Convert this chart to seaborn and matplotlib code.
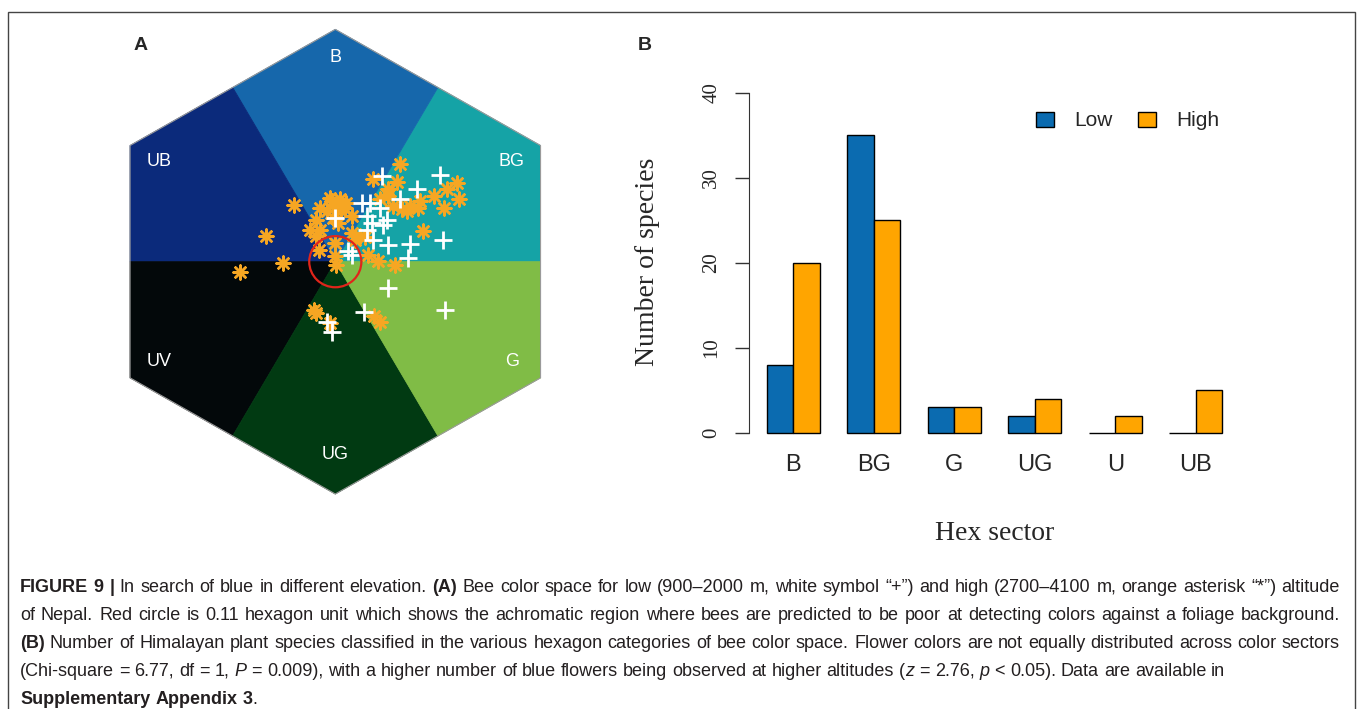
import re
import numpy as np
import pandas as pd
import matplotlib
matplotlib.use("Agg")
import matplotlib.pyplot as plt
from matplotlib.patches import Polygon, Circle, Rectangle
import seaborn as sns

# ==================== Data: panel A (hexagon units, vertex radius = 1) ====================
low_x = [0.198, 0.443, 0.344, 0.273, 0.111, 0.146, 0.189, 0.132, 0.217, 0.203,
         0.153, 0.160, 0.224, 0.316, 0.454, 0.054, 0.069, 0.306, 0.224, 0.461,
         0.122, -0.035, -0.016, -0.002, 0.132]
low_y = [0.371, 0.373, 0.314, 0.268, 0.253, 0.253, 0.232, 0.196, 0.181, 0.156,
         0.167, 0.095, 0.072, 0.078, 0.095, 0.045, 0.030, 0.016, -0.114, -0.210,
         -0.217, -0.259, -0.301, 0.189, 0.138]

high_x = [0.273, 0.157, 0.259, 0.224, 0.513, 0.471, 0.520, 0.457, 0.415, 0.358,
          0.316, 0.280, 0.245, 0.189, 0.372, -0.176, -0.292, -0.221, -0.402, -0.066,
          -0.016, 0.019, 0.005, 0.040, -0.037, -0.080, -0.009, 0.069, 0.012, -0.108,
          -0.080, 0.069, 0.104, 0.083, 0.125, -0.069, -0.002, -0.002, 0.002, 0.139,
          0.181, 0.252, -0.091, -0.083, -0.023, 0.163, 0.189, 0.302, -0.066, 0.026,
          -0.023, 0.047, 0.351, 0.224]
high_y = [0.419, 0.354, 0.343, 0.311, 0.340, 0.311, 0.268, 0.232, 0.282, 0.261,
          0.239, 0.225, 0.239, 0.268, 0.131, 0.243, 0.112, -0.006, -0.046, 0.232,
          0.261, 0.268, 0.239, 0.232, 0.217, 0.181, 0.189, 0.196, 0.167, 0.138,
          0.109, 0.124, 0.109, 0.095, 0.107, 0.052, 0.081, 0.023, -0.013, 0.030,
          0.001, -0.013, -0.207, -0.222, -0.265, -0.233, -0.258, 0.217, 0.138, 0.217,
          0.275, 0.253, 0.232, 0.282]

# sectors counter-clockwise starting at 0 degrees
hex_sectors = ["BG", "B", "UB", "UV", "UG", "G"]
hex_colors = ["#15A3A6", "#1667AB", "#0B2A7B", "#03080A", "#013A12", "#80BC46"]
achromatic_radius = 0.11

# ==================== Data: panel B ====================
sectors = ["B", "BG", "G", "UG", "U", "UB"]
low_counts = [8, 35, 3, 2, 0, 0]
high_counts = [20, 25, 3, 4, 2, 5]

caption_lines = [
    "{b:FIGURE 9 |} In search of blue in different elevation. {b:(A)} Bee color space for low "
    "(900–2000 m, white symbol “+”) and high (2700–4100 m, orange asterisk “*”) altitude",
    "of Nepal. Red circle is 0.11 hexagon unit which shows the achromatic region where bees "
    "are predicted to be poor at detecting colors against a foliage background.",
    "{b:(B)} Number of Himalayan plant species classified in the various hexagon categories of "
    "bee color space. Flower colors are not equally distributed across color sectors",
    "(Chi-square = 6.77, df = 1, {i:P} = 0.009), with a higher number of blue flowers being "
    "observed at higher altitudes ({i:z} = 2.76, {i:p} < 0.05). Data are available in",
    "{b:Supplementary Appendix 3}.",
]

# ==================== Figure ====================
sns.set_style("white")
plt.rcParams['font.family'] = ['Liberation Sans', 'DejaVu Sans']
W, H = 1360, 709
fig = plt.figure(figsize=(W / 100, H / 100), dpi=100)

# outer frame
fig.patches.append(Rectangle((8 / W, -0.05), 1347 / W, 1.05 - 12 / H, transform=fig.transFigure,
                             fill=False, edgecolor="#444444", lw=1))

# ---------- panel A ----------
cx, cy, sx, sy = 335.3, 261.7, 237.0, 232.3
axA = fig.add_axes([95 / W, 1 - 510 / H, 480 / W, 490 / H])
c30 = np.cos(np.pi / 6)
for k, (name, col) in enumerate(zip(hex_sectors, hex_colors)):
    a1, am, a2 = np.radians([60 * k, 60 * k + 30, 60 * k + 60])
    pts = [(0, 0), (c30 * np.cos(a1), c30 * np.sin(a1)), (np.cos(am), np.sin(am)),
           (c30 * np.cos(a2), c30 * np.sin(a2))]
    axA.add_patch(Polygon(pts, closed=True, facecolor=col, edgecolor=col, lw=0.6, zorder=1))
    lx, ly = 0.86 * np.cos(am), 0.86 * np.sin(am)
    if name == "B":
        lx, ly = 0, 0.88
    elif name == "UG":
        lx, ly = 0, -0.83
    axA.text(lx, ly, name, color="white", fontsize=13, ha="center", va="center", zorder=2)

hex_pts = [(np.cos(np.radians(30 + 60 * k)), np.sin(np.radians(30 + 60 * k))) for k in range(6)]
axA.add_patch(Polygon(hex_pts, closed=True, fill=False, edgecolor="#9a9a9a", lw=0.8, zorder=2))

sns.scatterplot(x=high_x, y=high_y, marker=(8, 2, 0), s=100, color="#F6A623",
                linewidth=1.8, ax=axA, zorder=3)
sns.scatterplot(x=low_x, y=low_y, marker="+", s=150, color="white",
                linewidth=2.0, ax=axA, zorder=4)
axA.add_patch(Circle((0, 0), achromatic_radius, fill=False, edgecolor="#E1251B", lw=1.6, zorder=5))

axA.set_xlim((95 - cx) / sx, (575 - cx) / sx)
axA.set_ylim((cy - 510) / sy, (cy - 20) / sy)
axA.axis("off")

fig.text(141 / W, 1 - 45 / H, "A", fontsize=14, fontweight="bold", ha="center", va="center")
fig.text(645 / W, 1 - 45 / H, "B", fontsize=14, fontweight="bold", ha="center", va="center")

# ---------- panel B ----------
bar_df = pd.DataFrame({
    "sector": sectors * 2,
    "count": low_counts + high_counts,
    "altitude": ["Low"] * len(sectors) + ["High"] * len(sectors),
})
x0, dx = 793.3, 80.5          # pixel centre of first group, group spacing
y0, dy = 433.0, 8.51          # pixel of zero, pixels per unit
left_px, right_px = 749, 1241
ylo, yhi = -0.8, 41
bot_px, top_px = y0 - ylo * dy, y0 - yhi * dy
axB = fig.add_axes([left_px / W, 1 - bot_px / H, (right_px - left_px) / W, (bot_px - top_px) / H])
sns.barplot(data=bar_df, x="sector", y="count", hue="altitude",
            palette={"Low": "#0B6BB0", "High": "#FFA500"}, saturation=1,
            width=0.66, edgecolor="black", linewidth=1, ax=axB)
axB.set_xlim((left_px - x0) / dx, (right_px - x0) / dx)
axB.set_ylim(ylo, yhi)
for s in ["top", "right", "bottom"]:
    axB.spines[s].set_visible(False)
axB.spines["left"].set_bounds(0, 40)
axB.spines["left"].set_color("#333333")
axB.set_yticks([0, 10, 20, 30, 40])
axB.tick_params(axis="y", length=10, width=1, color="#333333", pad=10, left=True)
axB.tick_params(axis="x", length=0, pad=10, labelsize=17)
for lab in axB.get_yticklabels():
    lab.set_rotation(90)
    lab.set_va("center")
    lab.set_family(["Liberation Serif", "DejaVu Serif"])
    lab.set_fontsize(15)
axB.set_ylabel("Number of species", family=["Liberation Serif", "DejaVu Serif"], fontsize=20)
axB.yaxis.set_label_coords((648 - left_px) / (right_px - left_px), 0.5)
axB.yaxis.label.set_va("center")
axB.set_xlabel("Hex sector", family=["Liberation Serif", "DejaVu Serif"], fontsize=20)
axB.xaxis.set_label_coords(0.5, (bot_px - 533) / (bot_px - top_px))
axB.xaxis.label.set_va("center")

handles, labels = axB.get_legend_handles_labels()
axB.legend(handles, labels, loc="center left", bbox_to_anchor=(1036 / W, 1 - 121 / H),
           bbox_transform=fig.transFigure, ncol=2, frameon=False, fontsize=15,
           handlelength=0.85, handleheight=0.75, handletextpad=1.0, columnspacing=1.2,
           borderpad=0, borderaxespad=0)

# ---------- caption ----------
renderer = fig.canvas.get_renderer()
styles = {"n": {}, "b": {"fontweight": "bold"}, "i": {"fontstyle": "italic"}}


def split_words(line):
    pieces, pos = [], 0
    for m in re.finditer(r"\{([bi]):(.*?)\}", line):
        if m.start() > pos:
            pieces.append((line[pos:m.start()], "n"))
        pieces.append((m.group(2), m.group(1)))
        pos = m.end()
    if pos < len(line):
        pieces.append((line[pos:], "n"))
    words = [[]]
    for txt, kind in pieces:
        for k, part in enumerate(txt.split(" ")):
            if k > 0:
                words.append([])
            if part:
                words[-1].append((part, kind))
    return [w for w in words if w]


def measure(txt, fs, kind="n"):
    t = fig.text(0, 0, txt, fontsize=fs, **styles[kind])
    w = t.get_window_extent(renderer).width
    t.remove()
    return w


def natural_width(line, fs):
    words = split_words(line)
    sp = measure("a a", fs) - measure("aa", fs)
    return sum(measure(p, fs, k) for w in words for p, k in w) + sp * (len(words) - 1)


x_start, x_end = 20, 1340
fs = 10 * (x_end - x_start - 6) / max(natural_width(l, 10) for l in caption_lines[:3])
space = measure("a a", fs) - measure("aa", fs)
for i, line in enumerate(caption_lines):
    yb = 592 + 28 * i
    words = split_words(line)
    items = []
    for w in words:
        row = []
        for p, k in w:
            t = fig.text(0, 1 - yb / H, p, fontsize=fs, color="#231F20", ha="left", va="baseline", **styles[k])
            row.append((t, t.get_window_extent(renderer).width))
        items.append(row)
    total = sum(wd for row in items for _, wd in row)
    gap = (x_end - x_start - total) / (len(items) - 1) if i < 3 else space
    x = x_start
    for row in items:
        for t, wd in row:
            t.set_x(x / W)
            x += wd
        x += gap

fig.savefig("out.png", dpi=100)
